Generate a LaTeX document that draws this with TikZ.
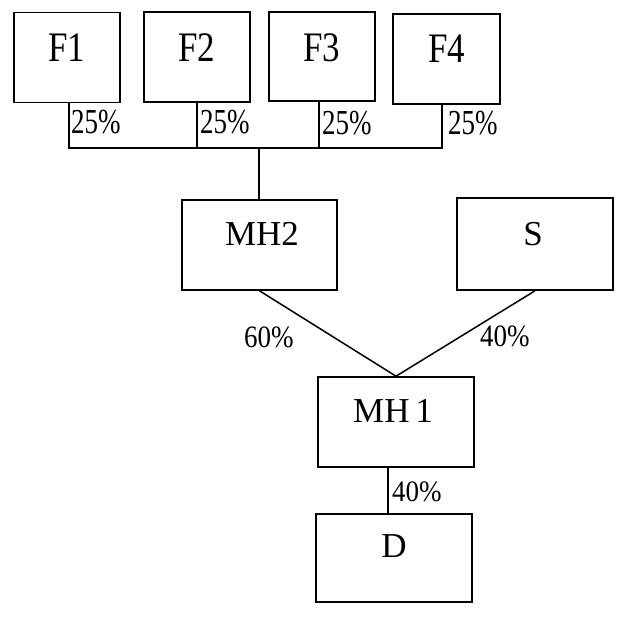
\documentclass[tikz,border=0pt]{standalone}
\usepackage{fontspec}
\setmainfont{Liberation Serif}
\usepackage{graphicx}
\begin{document}
\begin{tikzpicture}[x=1pt,y=-1pt,
  box/.style={draw,line width=1.6pt,inner sep=0pt},
  lab/.style={inner sep=0pt,font=\fontsize{35}{40}\selectfont},
  pct/.style={inner sep=0pt,anchor=west,font=\fontsize{27}{30}\selectfont},
  conn/.style={line width=1.5pt}]
\useasboundingbox[fill=white] (0,0) rectangle (630,630);
% boxes
\node[box,minimum width=106pt,minimum height=90pt] (f1) at (67,57.5) {};
\node[box,minimum width=106pt,minimum height=90pt] (f2) at (197,57) {};
\node[box,minimum width=106pt,minimum height=89pt] (f3) at (322,56.5) {};
\node[box,minimum width=107pt,minimum height=90pt] (f4) at (446.5,59) {};
\node[box,minimum width=155pt,minimum height=90pt] (mh2) at (259.5,245) {};
\node[box,minimum width=156pt,minimum height=92pt] (s) at (535,244) {};
\node[box,minimum width=156pt,minimum height=90pt] (mh1) at (396,422) {};
\node[box,minimum width=156pt,minimum height=88pt] (d) at (394,558) {};
% box labels
\node[lab] (f1t) at (66.5,47.5) {\scalebox{1}[1.2]{F1}};
\node[lab] (f2t) at (197,47.5) {\scalebox{1}[1.2]{F2}};
\node[lab] (f3t) at (322,48) {\scalebox{1}[1.2]{F3}};
\node[lab] (f4t) at (447,49) {\scalebox{1}[1.2]{F4}};
\node[lab] (mh2t) at (262,233.5) {MH2};
\node[lab] (st) at (533,234.5) {S};
\node[lab] (mh1t) at (393,410.5) {MH\,1};
\node[lab] (dt) at (394,546.5) {D};
% coordinates of the bus
\coordinate (busL) at (69,148);
\coordinate (busR) at (442,148);
\coordinate (busM) at (259,148);
\coordinate (x2) at (197,148);
\coordinate (x3) at (319,148);
\coordinate (xd) at (388,0);
% connectors
\draw[conn] (busL |- f1.south) -- (busL) -- (busR) -- (busR |- f4.south);
\draw[conn] (x2 |- f2.south) -- (x2);
\draw[conn] (x3 |- f3.south) -- (x3);
\draw[conn] (busM) -- (busM |- mh2.north);
\draw[conn] (mh2.south) -- (mh1.north);
\draw[conn] (s.south) -- (mh1.north);
\draw[conn] (xd |- mh1.south) -- (xd |- d.north);
% percent labels
\node[pct] (p1) at (71,122.5) {\scalebox{1}[1.3]{25\%}};
\node[pct] (p2) at (200,122.5) {\scalebox{1}[1.3]{25\%}};
\node[pct] (p3) at (322,123.5) {\scalebox{1}[1.3]{25\%}};
\node[pct] (p4) at (448,123.5) {\scalebox{1}[1.3]{25\%}};
\node[pct] (p5) at (244,337.5) {\scalebox{1}[1.15]{60\%}};
\node[pct] (p6) at (480,336) {\scalebox{1}[1.15]{40\%}};
\node[pct] (p7) at (392,492) {\scalebox{1}[1.1]{40\%}};
\end{tikzpicture}
\end{document}
